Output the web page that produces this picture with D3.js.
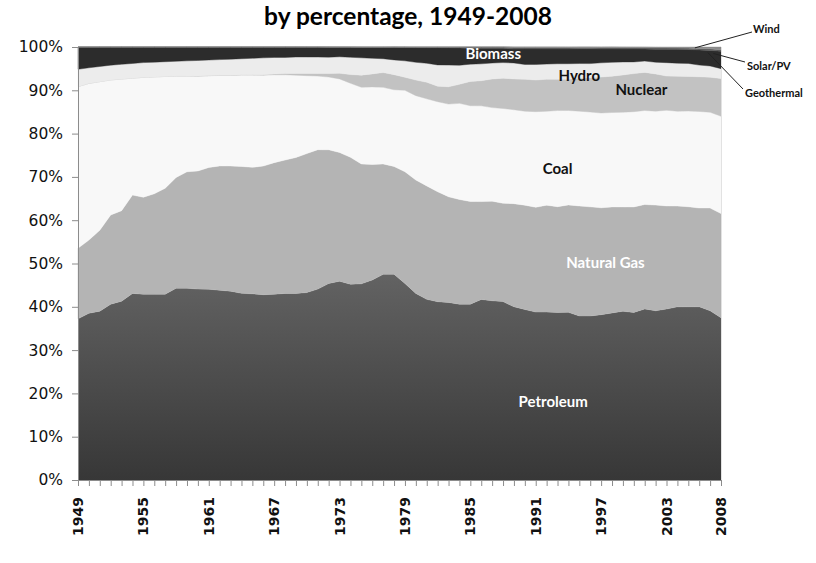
<!DOCTYPE html>
<html>
<head>
<meta charset="utf-8">
<script src="https://cdn.jsdelivr.net/npm/d3@7"></script>
<style>
  html, body { margin: 0; padding: 0; background: #ffffff; }
  svg { display: block; }
</style>
</head>
<body>
<svg id="chart" width="816" height="563"></svg>
<script>
// ---------------- DATA (percent of total energy consumption) ----------------
const years = d3.range(1949, 2009);
const seriesNames = ["Petroleum", "Natural Gas", "Coal", "Nuclear", "Hydro", "Biomass", "Geothermal", "Solar/PV", "Wind"];

const petroleum = [37.2,38.5,39.0,40.6,41.3,43.1,42.9,42.9,42.9,44.3,44.3,44.1,44.1,43.8,43.6,43.1,43.0,42.8,42.9,43.1,
                   43.1,43.3,44.1,45.4,45.9,45.2,45.3,46.2,47.5,47.5,45.4,43.1,41.7,41.2,41.0,40.6,40.6,41.7,41.4,41.2,
                   40.0,39.4,38.8,38.8,38.7,38.7,37.9,37.9,38.2,38.6,39.0,38.7,39.5,39.1,39.5,40.0,40.0,40.0,39.1,37.5];
const naturalGas = [16.3,16.9,18.7,20.6,20.9,22.7,22.4,23.2,24.5,25.6,26.9,27.3,28.1,28.7,28.9,29.3,29.2,29.7,30.4,30.8,
                    31.4,32.1,32.2,30.9,29.7,29.3,27.7,26.7,25.5,24.9,25.8,26.2,26.2,25.4,24.4,24.2,23.7,22.6,23.0,22.7,
                    23.8,24.1,24.2,24.7,24.4,24.8,25.4,25.2,24.7,24.5,24.1,24.4,24.1,24.4,23.8,23.3,23.1,22.8,23.7,24.1];
const coal = [37.3,36.2,34.3,31.2,30.4,27.0,27.7,27.0,25.8,23.4,22.1,21.9,21.2,20.9,20.9,21.1,21.3,21.0,20.3,19.7,
              19.0,18.0,17.0,16.8,17.0,17.1,17.7,17.9,17.7,17.7,18.8,19.5,20.1,20.8,21.4,22.2,22.1,22.1,21.6,21.9,
              21.7,21.7,22.1,21.7,22.2,21.8,21.9,21.9,21.9,21.8,21.9,22.0,21.7,21.7,22.1,21.9,22.1,22.3,22.1,22.5];
const nuclear = [0,0,0,0,0,0,0,0,0.01,0.02,0.02,0.03,0.04,0.05,0.06,0.07,0.08,0.1,0.2,0.3,
                 0.4,0.5,0.6,0.8,1.3,2.0,2.8,3.0,3.4,3.5,3.0,3.6,3.8,3.6,4.0,4.4,5.6,5.8,6.6,7.0,
                 7.1,7.4,7.3,7.4,7.2,7.2,7.6,7.9,8.3,8.4,8.6,8.8,8.8,8.6,7.9,8.1,8.0,8.0,8.1,8.7];
const hydro = [4.0,3.6,3.5,3.4,3.4,3.4,3.4,3.4,3.4,3.4,3.5,3.6,3.6,3.6,3.7,3.7,3.8,3.9,3.8,3.7,
               3.8,3.8,3.8,3.8,3.8,4.0,4.0,3.6,3.2,3.4,3.8,4.1,4.4,4.9,5.0,4.4,4.0,3.9,3.7,3.6,
               3.7,3.4,3.6,3.5,3.6,3.6,3.4,3.3,3.3,3.2,3.0,2.7,2.6,2.7,3.1,3.0,3.0,2.7,2.6,2.3];
const biomass = [5.15,4.8,4.5,4.2,4.0,3.8,3.6,3.5,3.4,3.3,3.2,3.1,3.0,2.9,2.8,2.7,2.6,2.5,2.4,2.4,
                 2.3,2.3,2.3,2.3,2.2,2.3,2.4,2.5,2.6,2.9,3.1,3.4,3.6,4.0,4.0,4.0,3.7,3.6,3.4,3.3,
                 3.2,3.6,3.6,3.5,3.4,3.4,3.4,3.4,3.2,3.1,3.0,3.0,2.8,3.0,3.1,3.2,3.2,3.5,3.6,4.0];
const geothermal = [0,0,0,0,0,0,0,0,0,0,0,0.01,0.01,0.01,0.01,0.01,0.01,0.01,0.01,0.01,
                    0.01,0.02,0.02,0.04,0.06,0.07,0.10,0.11,0.11,0.08,0.10,0.14,0.16,0.14,0.18,0.22,0.26,0.29,0.30,0.29,
                    0.38,0.34,0.34,0.35,0.37,0.35,0.32,0.33,0.34,0.34,0.34,0.32,0.32,0.34,0.34,0.34,0.34,0.34,0.35,0.36];
const solar = [0,0,0,0,0,0,0,0,0,0,0,0,0,0,0,0,0,0,0,0,
               0,0,0,0,0,0,0,0,0,0,0,0,0,0,0,0,0,0,0,0.01,
               0.07,0.07,0.07,0.07,0.07,0.07,0.07,0.07,0.07,0.07,0.07,0.07,0.07,0.07,0.06,0.06,0.07,0.07,0.08,0.09];
const wind = [0,0,0,0,0,0,0,0,0,0,0,0,0,0,0,0,0,0,0,0,
              0,0,0,0,0,0,0,0,0,0,0,0,0,0,0,0,0,0,0,0,
              0.03,0.03,0.03,0.03,0.03,0.04,0.03,0.03,0.04,0.03,0.05,0.06,0.07,0.11,0.12,0.14,0.18,0.27,0.35,0.55];
const xLabelYears = [1949, 1955, 1961, 1967, 1973, 1979, 1985, 1991, 1997, 2003, 2008];
const yTickValues = [0, 0.1, 0.2, 0.3, 0.4, 0.5, 0.6, 0.7, 0.8, 0.9, 1.0];
const titleText = "by percentage, 1949-2008";

(function draw() {
  // ---------------- BUILD TABLE ----------------
  const seriesArrays = [petroleum, naturalGas, coal, nuclear, hydro, biomass, geothermal, solar, wind];
  const table = years.map((yr, i) => {
    const row = { year: yr };
    seriesNames.forEach((k, j) => { row[k] = seriesArrays[j][i]; });
    return row;
  });

  // ---------------- LAYOUT ----------------
  const svg = d3.select("#chart");
  const pLeft = 78, pRight = 721, pTop = 47, pBottom = 480;

  const x = d3.scaleLinear().domain([1949, 2008]).range([pLeft, pRight]);
  const y = d3.scaleLinear().domain([0, 1]).range([pBottom, pTop]);

  const stacked = d3.stack().keys(seriesNames).offset(d3.stackOffsetExpand)(table);

  const defs = svg.append("defs");
  const grad = defs.append("linearGradient")
    .attr("id", "petroGrad").attr("gradientUnits", "userSpaceOnUse")
    .attr("x1", 0).attr("x2", 0).attr("y1", y(0.48)).attr("y2", y(0));
  grad.append("stop").attr("offset", "0%").attr("stop-color", "#636363");
  grad.append("stop").attr("offset", "100%").attr("stop-color", "#373737");

  const fills = {
    "Petroleum": "url(#petroGrad)",
    "Natural Gas": "#b4b4b4",
    "Coal": "#f8f8f8",
    "Nuclear": "#c2c2c2",
    "Hydro": "#ececec",
    "Biomass": "#2c2c2c",
    "Geothermal": "#5a5a5a",
    "Solar/PV": "#9a9a9a",
    "Wind": "#8a8a8a"
  };

  const area = d3.area()
    .x(d => x(d.data.year))
    .y0(d => y(d[0]))
    .y1(d => y(d[1]));

  svg.append("g").selectAll("path")
    .data(stacked)
    .join("path")
    .attr("d", area)
    .attr("fill", d => fills[d.key])
    .attr("stroke", d => d.key === "Petroleum" ? "none" : fills[d.key])
    .attr("stroke-width", 0.4);

  // faint right border of plot area
  svg.append("line")
    .attr("x1", x(2008) + 0.5).attr("x2", x(2008) + 0.5)
    .attr("y1", y(1)).attr("y2", y(0))
    .attr("stroke", "#e2e2e2").attr("stroke-width", 1);

  // ---------------- AXES ----------------
  const yAxis = d3.axisLeft(y)
    .tickValues(yTickValues)
    .tickFormat(d3.format(".0%"))
    .tickSize(6)
    .tickPadding(9);
  const gy = svg.append("g").attr("transform", `translate(${pLeft},0)`).call(yAxis);
  gy.select(".domain").attr("stroke", "#8c8c8c");
  gy.selectAll(".tick line").attr("stroke", "#8c8c8c");
  gy.selectAll(".tick text")
    .attr("font-family", "DejaVu Sans, Verdana, sans-serif")
    .attr("font-size", 15.5)
    .attr("fill", "#111");

  const xAxis = d3.axisBottom(x)
    .tickValues(years)
    .tickFormat("")
    .tickSize(6)
    .tickSizeOuter(0);
  const gx = svg.append("g").attr("transform", `translate(0,${pBottom})`).call(xAxis);
  gx.select(".domain").attr("stroke", "#8c8c8c");
  gx.selectAll(".tick line").attr("stroke", "#8c8c8c");

  svg.append("g").selectAll("text")
    .data(xLabelYears)
    .join("text")
    .attr("transform", d => `translate(${x(d)},${pBottom + 17}) rotate(-90)`)
    .attr("text-anchor", "end")
    .attr("dy", "0.36em")
    .attr("font-family", "DejaVu Sans, Verdana, sans-serif")
    .attr("font-weight", "bold")
    .attr("font-size", 14)
    .attr("fill", "#111")
    .text(d => d);

  // ---------------- TITLE ----------------
  svg.append("text")
    .attr("x", 408).attr("y", 25)
    .attr("text-anchor", "middle")
    .attr("font-family", "Lato, Open Sans, sans-serif")
    .attr("font-weight", "bold")
    .attr("font-size", 24.5)
    .attr("fill", "#000")
    .text(titleText);

  // ---------------- IN-CHART LABELS ----------------
  const inLabels = [
    { text: "Biomass",     year: 1987.1, v: 0.984, color: "#ffffff" },
    { text: "Hydro",       year: 1995.0, v: 0.935, color: "#111111" },
    { text: "Nuclear",     year: 2000.7, v: 0.901, color: "#111111" },
    { text: "Coal",        year: 1993.0, v: 0.720, color: "#111111" },
    { text: "Natural Gas", year: 1997.4, v: 0.503, color: "#ffffff" },
    { text: "Petroleum",   year: 1992.6, v: 0.180, color: "#ffffff" }
  ];
  svg.append("g").selectAll("text")
    .data(inLabels)
    .join("text")
    .attr("x", d => x(d.year))
    .attr("y", d => y(d.v))
    .attr("dy", "0.36em")
    .attr("text-anchor", "middle")
    .attr("font-family", "Lato, Open Sans, sans-serif")
    .attr("font-weight", "bold")
    .attr("font-size", 15)
    .attr("fill", d => d.color)
    .text(d => d.text);

  // ---------------- CALLOUTS ----------------
  const callouts = [
    { text: "Wind",       tx: 753, ty: 29, lx: 752, ly: 32, year: 2005.6, v: 0.998 },
    { text: "Solar/PV",   tx: 747, ty: 66, lx: 745, ly: 62, year: 2007.3, v: 0.985 },
    { text: "Geothermal", tx: 745, ty: 93, lx: 743, ly: 89, year: 2006.8, v: 0.987 }
  ];
  const cg = svg.append("g");
  cg.selectAll("line")
    .data(callouts)
    .join("line")
    .attr("x1", d => d.lx).attr("y1", d => d.ly)
    .attr("x2", d => x(d.year)).attr("y2", d => y(d.v))
    .attr("stroke", "#222").attr("stroke-width", 1);
  cg.selectAll("text")
    .data(callouts)
    .join("text")
    .attr("x", d => d.tx).attr("y", d => d.ty)
    .attr("dy", "0.36em")
    .attr("font-family", "Lato, Open Sans, sans-serif")
    .attr("font-weight", "bold")
    .attr("font-size", 11)
    .attr("fill", "#111")
    .text(d => d.text);
})();
</script>
</body>
</html>
